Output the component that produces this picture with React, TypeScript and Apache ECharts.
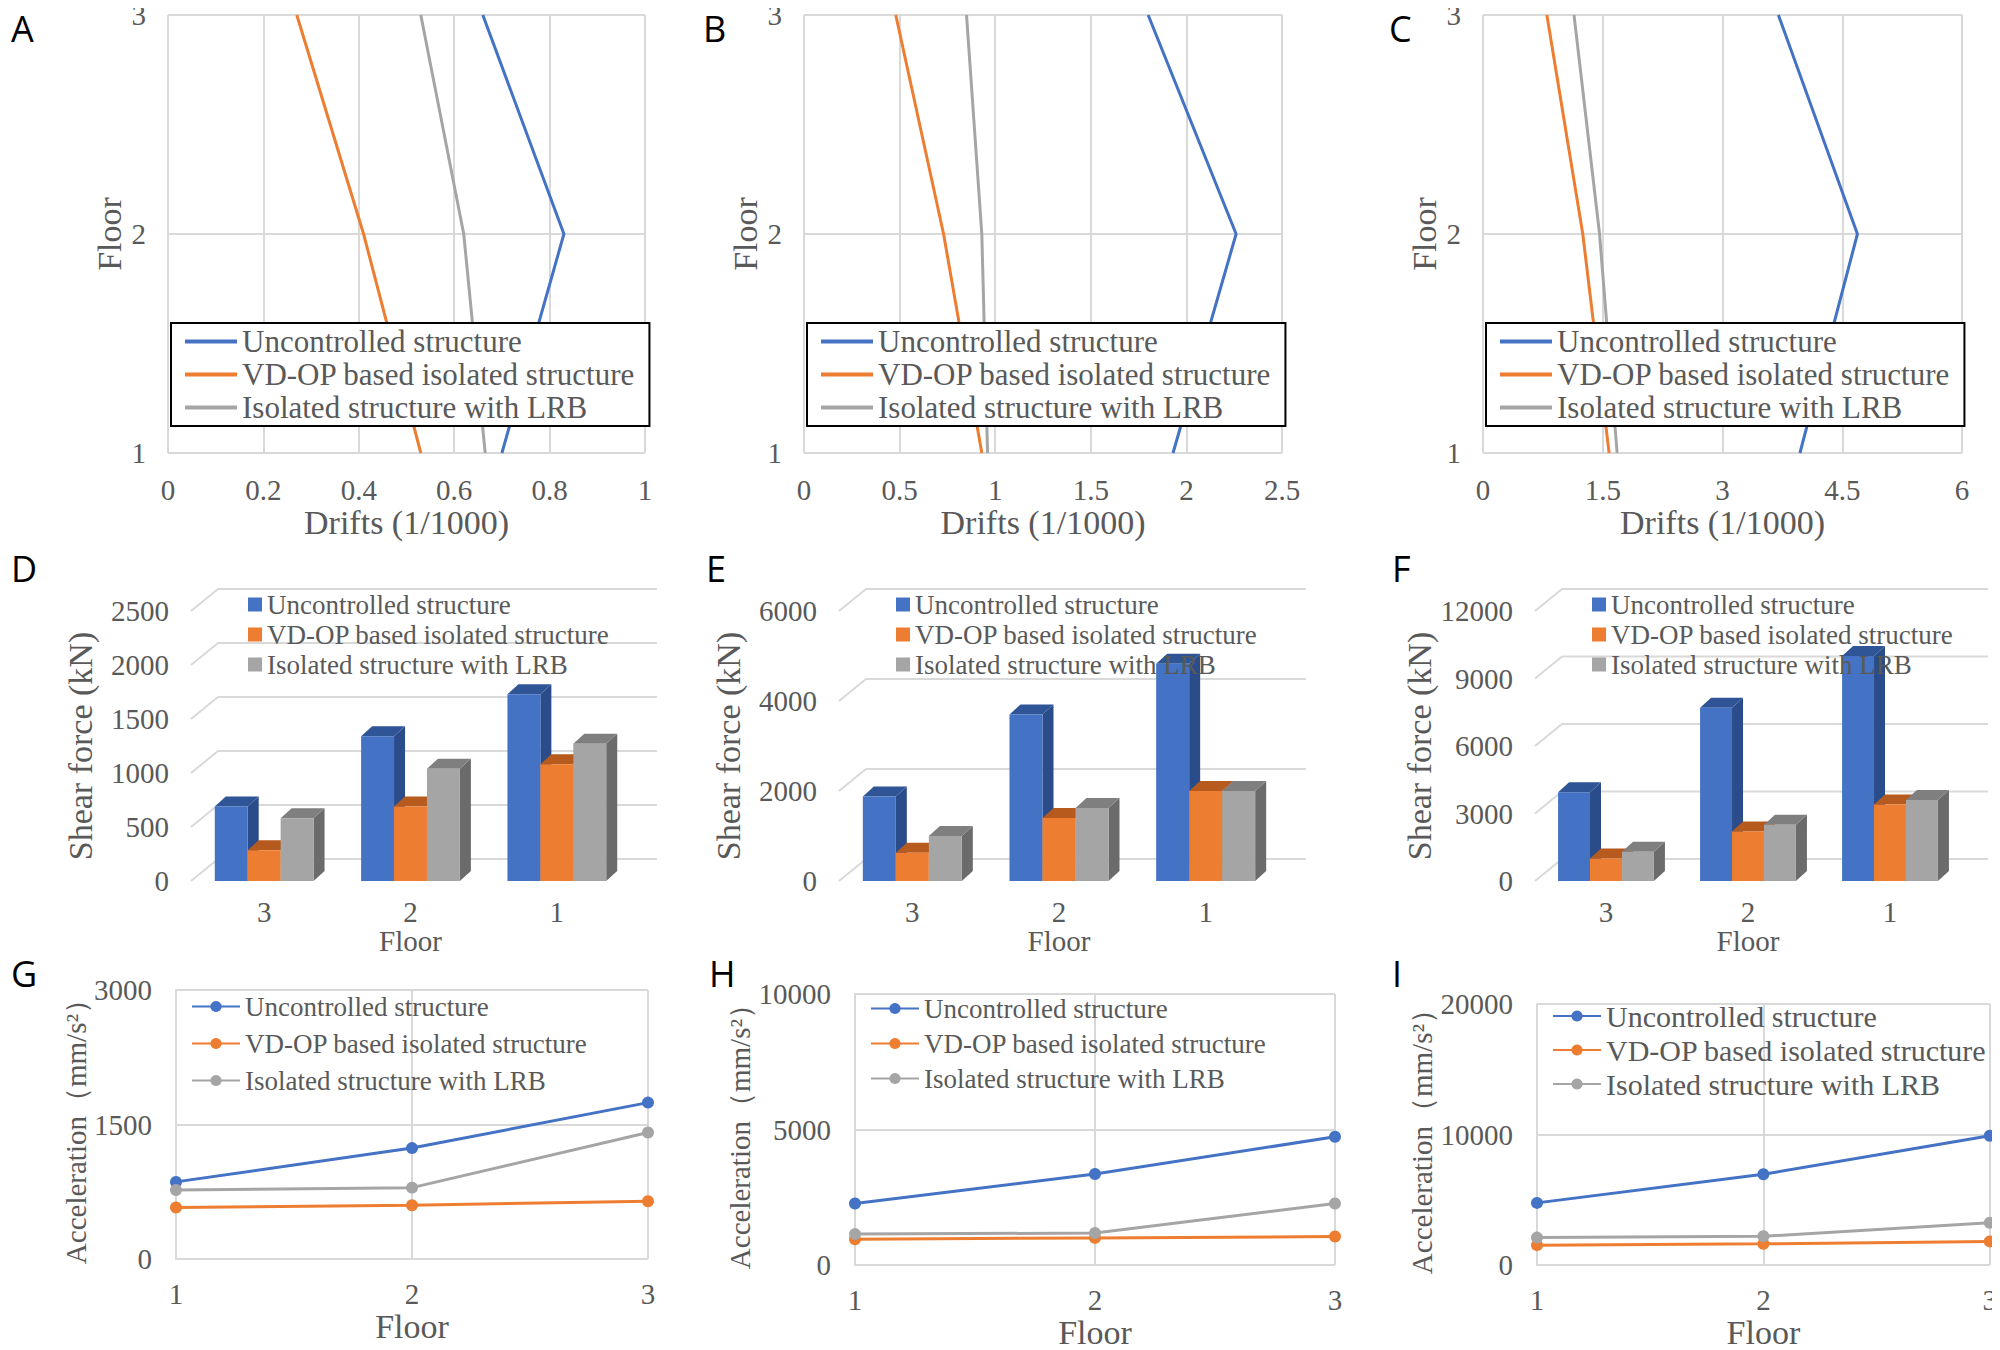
import React, { useEffect, useRef } from "react";
import * as echarts from "echarts";

const NAMES = ["Uncontrolled structure", "VD-OP based isolated structure", "Isolated structure with LRB"];
const COLORS = ["#4472C4", "#ED7D31", "#A5A5A5"];
const TOPC = ["#2F5597", "#B65A1E", "#7F7F7F"];
const SIDEC = ["#2B4C8A", "#C4621F", "#6B6B6B"];

// Drifts: floors [1,2,3]
const floors = [1, 2, 3];
const driftA = [[0.70, 0.83, 0.66], [0.53, 0.41, 0.27], [0.665, 0.62, 0.53]];
const driftB = [[1.93, 2.26, 1.80], [0.93, 0.73, 0.48], [0.96, 0.93, 0.85]];
const driftC = [[3.97, 4.69, 3.70], [1.58, 1.25, 0.80], [1.68, 1.46, 1.14]];

// Shear: categories 3,2,1
const shearCats = ["3", "2", "1"];
const shearD = [[690, 1340, 1730], [285, 690, 1080], [580, 1040, 1270]];
const shearE = [[1880, 3700, 4830], [630, 1400, 2000], [1000, 1620, 2000]];
const shearF = [[3950, 7700, 10000], [1000, 2200, 3400], [1300, 2500, 3600]];

// Acceleration: floors 1,2,3
const accCats = ["1", "2", "3"];
const accG = [[860, 1237, 1744], [574, 600, 644], [770, 796, 1411]];
const accH = [[2270, 3360, 4730], [950, 1000, 1050], [1140, 1180, 2270]];
const accI = [[4760, 6950, 9900], [1520, 1620, 1810], [2100, 2200, 3240]];

const SERIF = "Liberation Serif";
const TXT = "#595959";
const plain = (v: number) => String(v);

export default function App() {
  const ref = useRef<HTMLDivElement>(null);
  useEffect(() => {
    const chart = echarts.init(ref.current!, null, { renderer: "svg" });
    const grid: any[] = [], xAxis: any[] = [], yAxis: any[] = [], series: any[] = [], legend: any[] = [];
    const lbl = (size: number) => ({ color: TXT, fontFamily: SERIF, fontSize: size });
    const gridLine = { show: true, lineStyle: { color: "#D9D9D9", width: 2 } };

    // Row 1
    const r1 = [
      { d: driftA, l: 168, r: 645, max: 1, iv: 0.2 },
      { d: driftB, l: 804, r: 1282, max: 2.5, iv: 0.5 },
      { d: driftC, l: 1483, r: 1962, max: 6, iv: 1.5 },
    ];
    r1.forEach((p) => {
      const gi = grid.length;
      grid.push({ left: p.l, width: p.r - p.l, top: 15, height: 438 });
      xAxis.push({ type: "value", gridIndex: gi, min: 0, max: p.max, interval: p.iv, axisLine: { show: false }, axisTick: { show: false }, splitLine: gridLine, axisLabel: { ...lbl(29), margin: 22, formatter: plain }, name: "Drifts (1/1000)", nameLocation: "middle", nameGap: 52, nameTextStyle: lbl(34) });
      yAxis.push({ type: "value", gridIndex: gi, min: 1, max: 3, interval: 1, axisLine: { show: false }, axisTick: { show: false }, splitLine: gridLine, axisLabel: { ...lbl(29), margin: 22 }, name: "Floor", nameLocation: "middle", nameGap: 42, nameTextStyle: lbl(34) });
      p.d.forEach((s, k) => series.push({ type: "line", name: NAMES[k], xAxisIndex: gi, yAxisIndex: gi, data: s.map((v, j) => [v, floors[j]]), symbol: "none", lineStyle: { color: COLORS[k], width: 3 }, itemStyle: { color: COLORS[k] }, z: 2 }));
      legend.push({ data: NAMES, orient: "vertical", left: p.l + 3, top: 323, width: p.r - p.l - 3, itemGap: 0, icon: "rect", itemWidth: 52, itemHeight: 4, padding: [2, 14, 2, 14], backgroundColor: "#fff", borderColor: "#000", borderWidth: 2, textStyle: { ...lbl(31), lineHeight: 33 }, selectedMode: false });
    });

    // Row 2
    const r2 = [
      { d: shearD, l: 191, r: 630, max: 2500, iv: 500 },
      { d: shearE, l: 839, r: 1279, max: 6000, iv: 2000 },
      { d: shearF, l: 1535, r: 1961, max: 12000, iv: 3000 },
    ];
    const DX = 27, DY = 22;
    r2.forEach((p) => {
      const gi = grid.length;
      grid.push({ left: p.l, width: p.r - p.l, top: 611, height: 270 });
      xAxis.push({ type: "category", gridIndex: gi, data: shearCats, axisLine: { show: false }, axisTick: { show: false }, axisLabel: { ...lbl(29), margin: 16 }, name: "Floor", nameLocation: "middle", nameGap: 36, nameTextStyle: lbl(29) });
      yAxis.push({ type: "value", gridIndex: gi, min: 0, max: p.max, interval: p.iv, axisLine: { show: false }, axisTick: { show: false }, splitLine: { show: false }, axisLabel: { ...lbl(29), margin: 22, formatter: plain }, name: "Shear force (kN)", nameLocation: "middle", nameGap: 94, nameTextStyle: lbl(34) });
      const ticks: number[] = [];
      for (let v = 0; v <= p.max; v += p.iv) ticks.push(v);
      series.push({
        type: "custom", xAxisIndex: gi, yAxisIndex: gi, silent: true, z: 1,
        data: ticks.map((v) => [0, v]),
        renderItem: (params: any, api: any) => {
          const band = api.size([1, 0])[0];
          const a = api.coord([0, api.value(1)]);
          const b = api.coord([2, api.value(1)]);
          const x0 = a[0] - band / 2, x1 = b[0] + band / 2 + DX, y = a[1];
          return { type: "polyline", shape: { points: [[x0, y], [x0 + DX, y - DY], [x1, y - DY]] }, style: { stroke: "#D9D9D9", lineWidth: 2, fill: null } };
        },
      });
      p.d.forEach((s, k) => series.push({
        type: "custom", name: NAMES[k], xAxisIndex: gi, yAxisIndex: gi, z: 3,
        itemStyle: { color: COLORS[k] },
        data: s.map((v, j) => [j, v]),
        renderItem: (params: any, api: any) => {
          const band = api.size([1, 0])[0];
          const bw = band * 0.225;
          const top = api.coord([api.value(0), api.value(1)]);
          const base = api.coord([api.value(0), 0]);
          const x = top[0] - 1.5 * bw + k * bw;
          const d = 11, e = 10;
          return {
            type: "group", children: [
              { type: "polygon", shape: { points: [[x + bw, top[1]], [x + bw + d, top[1] - e], [x + bw + d, base[1] - e], [x + bw, base[1]]] }, style: { fill: SIDEC[k] } },
              { type: "polygon", shape: { points: [[x, top[1]], [x + d, top[1] - e], [x + bw + d, top[1] - e], [x + bw, top[1]]] }, style: { fill: TOPC[k] } },
              { type: "rect", shape: { x, y: top[1], width: bw, height: base[1] - top[1] }, style: { fill: COLORS[k] } },
            ],
          };
        },
      }));
      legend.push({ data: NAMES, orient: "vertical", left: p.l + 52, top: 586, itemGap: 3, icon: "rect", itemWidth: 14, itemHeight: 14, textStyle: lbl(27), selectedMode: false });
    });

    // Row 3
    const r3 = [
      { d: accG, l: 176, r: 648, t: 990, b: 1259, max: 3000, iv: 1500, fs: 27, lt: 988, gap: 10 },
      { d: accH, l: 855, r: 1335, t: 994, b: 1274, max: 10000, iv: 5000, fs: 27, lt: 990, gap: 8 },
      { d: accI, l: 1537, r: 1990, t: 1004, b: 1272, max: 20000, iv: 10000, fs: 30, lt: 996, gap: 4 },
    ];
    r3.forEach((p) => {
      const gi = grid.length;
      grid.push({ left: p.l, width: p.r - p.l, top: p.t, height: p.b - p.t });
      xAxis.push({ type: "category", gridIndex: gi, boundaryGap: false, data: accCats, axisLine: { show: false }, axisTick: { show: false }, splitLine: gridLine, axisLabel: { ...lbl(29), margin: 20 }, name: "Floor", nameLocation: "middle", nameGap: 50, nameTextStyle: lbl(34) });
      yAxis.push({ type: "value", gridIndex: gi, min: 0, max: p.max, interval: p.iv, axisLine: { show: true, lineStyle: { color: "#D9D9D9", width: 2 } }, axisTick: { show: false }, splitLine: gridLine, axisLabel: { ...lbl(29), margin: 24, formatter: plain }, name: "Acceleration（mm/s²）", nameLocation: "middle", nameGap: 72, nameTextStyle: lbl(29) });
      p.d.forEach((s, k) => series.push({ type: "line", name: NAMES[k], xAxisIndex: gi, yAxisIndex: gi, data: s, symbol: "circle", symbolSize: 12, lineStyle: { color: COLORS[k], width: 3 }, itemStyle: { color: COLORS[k] }, z: 3 }));
      legend.push({ data: NAMES, orient: "vertical", left: p.l + 10, top: p.lt, itemGap: p.gap, itemWidth: 48, itemHeight: 14, textStyle: lbl(p.fs), selectedMode: false });
    });

    const letters: [string, number, number][] = [["A", 11, 10], ["B", 703, 10], ["C", 1389, 10], ["D", 11, 550], ["E", 706, 550], ["F", 1392, 550], ["G", 11, 955], ["H", 709, 955], ["I", 1392, 955]];
    const graphic = letters.map(([t, x, y]) => ({ type: "text", left: x, top: y, style: { text: t, fontFamily: "Open Sans", fontSize: 36, fill: "#000" } }));

    chart.setOption({ animation: false, backgroundColor: "#fff", grid, xAxis, yAxis, series, legend, graphic });
    return () => chart.dispose();
  }, []);
  return <div ref={ref} style={{ width: 2000, height: 1350, marginLeft: -8, marginTop: -8 }} />;
}
